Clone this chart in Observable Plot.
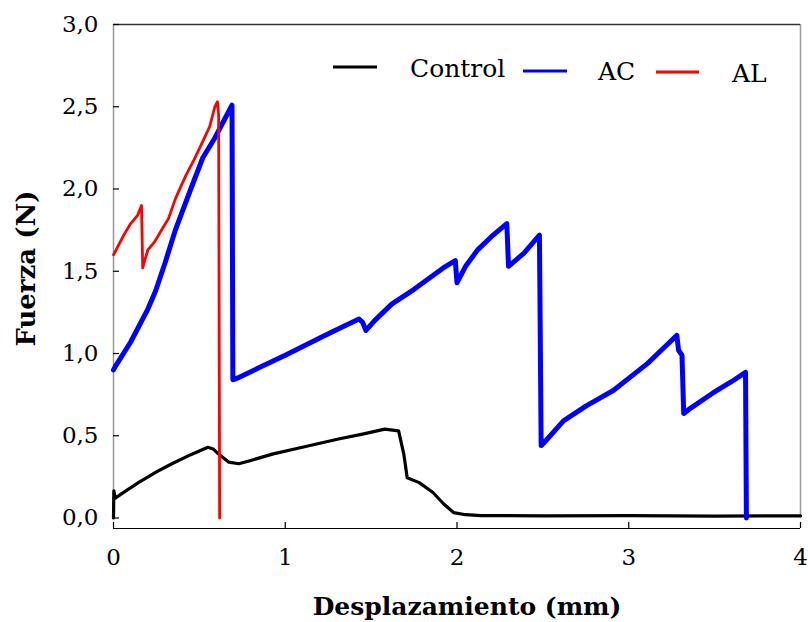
<!DOCTYPE html>
<html>
<head>
<meta charset="utf-8">
<script src="https://cdn.jsdelivr.net/npm/d3@7"></script>
<script src="https://cdn.jsdelivr.net/npm/@observablehq/plot@0.6"></script>
<style>
  body { margin: 0; background: #fff; }
  #wrap { position: relative; width: 808px; height: 622px; font-family: "DejaVu Serif", "Liberation Serif", serif; }
  #legend { position: absolute; left: 0; top: 0; pointer-events: none; }
</style>
</head>
<body>
<div id="wrap"></div>
<script>
// ---- Data ----
const acX = [0, 0.01, 0.1, 0.2, 0.245, 0.3, 0.36, 0.45, 0.52, 0.59, 0.65, 0.69, 0.695, 0.72, 0.84, 1.0, 1.23, 1.35, 1.43, 1.45, 1.47, 1.52, 1.62, 1.75, 1.92, 1.99, 2.0, 2.05, 2.12, 2.2, 2.29, 2.3, 2.39, 2.48, 2.49, 2.5, 2.62, 2.75, 2.91, 3.11, 3.2, 3.28, 3.29, 3.31, 3.32, 3.35, 3.49, 3.6, 3.68, 3.685];
const acY = [0.9, 0.92, 1.07, 1.27, 1.38, 1.55, 1.75, 2.0, 2.19, 2.31, 2.43, 2.51, 0.84, 0.85, 0.91, 0.99, 1.11, 1.17, 1.21, 1.19, 1.14, 1.2, 1.3, 1.39, 1.52, 1.565, 1.43, 1.53, 1.63, 1.71, 1.79, 1.53, 1.61, 1.72, 0.44, 0.45, 0.59, 0.68, 0.775, 0.94, 1.03, 1.11, 1.02, 0.99, 0.635, 0.66, 0.76, 0.83, 0.885, 0.0];

const alX = [0, 0.03, 0.06, 0.1, 0.14, 0.163, 0.17, 0.18, 0.2, 0.24, 0.285, 0.32, 0.36, 0.42, 0.47, 0.52, 0.56, 0.59, 0.605, 0.612, 0.618];
const alY = [1.6, 1.66, 1.72, 1.79, 1.84, 1.9, 1.52, 1.56, 1.63, 1.68, 1.76, 1.82, 1.94, 2.08, 2.18, 2.29, 2.38, 2.5, 2.53, 2.45, 0.0];

const ctlX = [0, 0.002, 0.01, 0.05, 0.145, 0.25, 0.34, 0.45, 0.55, 0.58, 0.61, 0.67, 0.73, 0.8, 0.93, 1.1, 1.31, 1.45, 1.58, 1.66, 1.69, 1.71, 1.78, 1.86, 1.92, 1.98, 2.05, 2.14, 2.5, 3.0, 3.5, 4.0];
const ctlY = [0.0, 0.165, 0.12, 0.15, 0.215, 0.28, 0.33, 0.385, 0.43, 0.42, 0.39, 0.34, 0.33, 0.35, 0.39, 0.43, 0.48, 0.51, 0.54, 0.53, 0.39, 0.245, 0.215, 0.155, 0.088, 0.033, 0.02, 0.015, 0.013, 0.014, 0.012, 0.013];

const xTicks = [0, 1, 2, 3, 4];
const yTicks = [0, 0.5, 1, 1.5, 2, 2.5, 3];
const seriesNames = ["Control", "AC", "AL"];
const seriesColors = ["#000000", "#0000ff", "#ff0000"];
const xTitle = "Desplazamiento (mm)";
const yTitle = "Fuerza (N)";

const toRows = (xs, ys, s) => xs.map((x, i) => ({x, y: ys[i], s}));
const control = toRows(ctlX, ctlY, "Control");
const ac = toRows(acX, acY, "AC");
const al = toRows(alX, alY, "AL");

const W = 808, H = 622;
const mL = 113, mR = 8, mT = 24, mB = 94;
const yMin = -0.0638;
const plotW = W - mL - mR, plotH = H - mT - mB;
const fmt = d => d3.format(".1f")(d).replace(".", ",");

const chart = Plot.plot({
  width: W, height: H,
  marginLeft: mL, marginRight: mR, marginTop: mT, marginBottom: mB,
  style: {fontFamily: "'DejaVu Serif', serif", fontSize: "23px", color: "#000", background: "#fff"},
  x: {domain: [0, 4]},
  y: {domain: [yMin, 3]},
  marks: [
    // frame pieces
    Plot.ruleX([0], {y1: 0, y2: 3, stroke: "#999", strokeWidth: 1.5}),
    Plot.ruleX([4], {y1: 0, y2: 3, stroke: "#999", strokeWidth: 1.5}),
    Plot.ruleY([3], {stroke: "#333", strokeWidth: 1.5}),
    Plot.ruleY([yMin], {stroke: "#000", strokeWidth: 1.2}),
    // inward ticks
    Plot.ruleX(xTicks, {insetTop: plotH - 6, stroke: "#000", strokeWidth: 1.2}),
    Plot.ruleY(yTicks, {insetRight: plotW - 6, stroke: "#000", strokeWidth: 1.2}),
    // axis labels
    Plot.axisX({ticks: xTicks, tickSize: 0, tickPadding: 20, tickFormat: d => String(d), label: null, fontSize: 23}),
    Plot.axisY({ticks: yTicks, tickSize: 0, tickPadding: 15, tickFormat: fmt, label: null, fontSize: 23}),
    // data
    Plot.line(control, {x: "x", y: "y", stroke: seriesColors[0], strokeWidth: 3.2, strokeLinejoin: "round"}),
    Plot.line(ac, {x: "x", y: "y", stroke: seriesColors[1], strokeWidth: 5, strokeLinejoin: "round"}),
    Plot.line(al, {x: "x", y: "y", stroke: seriesColors[2], strokeWidth: 2.8, strokeLinejoin: "round"}),
    // titles
    Plot.text([xTitle], {frameAnchor: "bottom", textAnchor: "middle", lineAnchor: "bottom", dx: 10, dy: 86, fontWeight: "bold", fontSize: 25, text: d => d}),
    Plot.text([yTitle], {frameAnchor: "left", textAnchor: "middle", lineAnchor: "middle", dx: -87, dy: -8, rotate: -90, fontWeight: "bold", fontSize: 26, text: d => d})
  ]
});
const wrap = document.getElementById("wrap");
wrap.appendChild(chart);

// legend overlay
const legendLayout = [
  {x1: 333, x2: 377, ly: 67, tx: 410, ty: 77},
  {x1: 523, x2: 567, ly: 71, tx: 598, ty: 80},
  {x1: 656, x2: 699, ly: 72, tx: 732, ty: 82}
];
const ns = "http://www.w3.org/2000/svg";
const lg = document.createElementNS(ns, "svg");
lg.setAttribute("id", "legend");
lg.setAttribute("width", W);
lg.setAttribute("height", 120);
seriesNames.forEach((name, i) => {
  const p = legendLayout[i];
  const ln = document.createElementNS(ns, "line");
  ln.setAttribute("x1", p.x1); ln.setAttribute("x2", p.x2);
  ln.setAttribute("y1", p.ly); ln.setAttribute("y2", p.ly);
  ln.setAttribute("stroke", seriesColors[i]); ln.setAttribute("stroke-width", 3);
  lg.appendChild(ln);
  const t = document.createElementNS(ns, "text");
  t.setAttribute("x", p.tx); t.setAttribute("y", p.ty);
  t.setAttribute("font-family", "'DejaVu Serif', serif");
  t.setAttribute("font-size", 25);
  t.textContent = name;
  lg.appendChild(t);
});
wrap.appendChild(lg);
</script>
</body>
</html>
